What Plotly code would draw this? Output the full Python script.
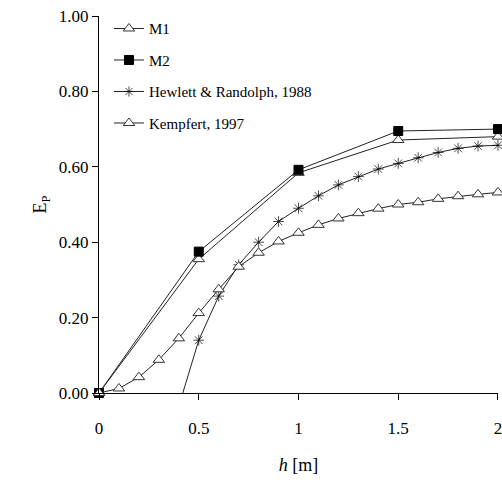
import plotly.graph_objects as go

# Data
h_m = [0, 0.5, 1.0, 1.5, 2.0]
m1 = [0.0, 0.355, 0.584, 0.671, 0.680]
m2 = [0.0, 0.375, 0.592, 0.695, 0.700]

h_hr = [0.42, 0.5, 0.6, 0.7, 0.8, 0.9, 1.0, 1.1, 1.2, 1.3, 1.4, 1.5, 1.6, 1.7, 1.8, 1.9, 2.0]
hewlett = [0.0, 0.14, 0.257, 0.34, 0.40, 0.455, 0.49, 0.523, 0.552, 0.574, 0.594,
           0.609, 0.624, 0.638, 0.649, 0.655, 0.657]

h_k = [0, 0.1, 0.2, 0.3, 0.4, 0.5, 0.6, 0.7, 0.8, 0.9, 1.0, 1.1, 1.2, 1.3, 1.4,
       1.5, 1.6, 1.7, 1.8, 1.9, 2.0]
kempfert = [0.0, 0.012, 0.042, 0.088, 0.145, 0.212, 0.275, 0.335, 0.372, 0.402, 0.425,
            0.446, 0.463, 0.477, 0.489, 0.50, 0.506, 0.515, 0.522, 0.527, 0.532]

y_ticks = [0, 0.2, 0.4, 0.6, 0.8, 1.0]
y_labels = ["0.00", "0.20", "0.40", "0.60", "0.80", "1.00"]
x_ticks = [0, 0.5, 1, 1.5, 2]
x_labels = ["0", "0.5", "1", "1.5", "2"]

FONT = "Liberation Serif"
LINE = "#222222"

fig = go.Figure()
fig.add_trace(go.Scatter(
    x=h_m, y=m1, name="M1", mode="lines+markers", legendgroup="a",
    line=dict(color=LINE, width=1),
    marker=dict(symbol="triangle-up", size=10, color="white",
                line=dict(color="#333333", width=1)),
    cliponaxis=False))
fig.add_trace(go.Scatter(
    x=h_m, y=m2, name="M2", mode="lines+markers", legendgroup="b",
    line=dict(color=LINE, width=1),
    marker=dict(symbol="square", size=9, color="black",
                line=dict(color="black", width=1)),
    cliponaxis=False))
fig.add_trace(go.Scatter(
    x=h_hr, y=hewlett, name="Hewlett & Randolph, 1988", mode="lines+markers",
    legendgroup="c",
    line=dict(color=LINE, width=1),
    marker=dict(symbol="asterisk-open", size=[0] + [9] * (len(h_hr) - 1),
                color="black", line=dict(color="#222222", width=1)),
    cliponaxis=False))
fig.add_trace(go.Scatter(
    x=h_k, y=kempfert, name="Kempfert, 1997", mode="lines+markers", legendgroup="d",
    line=dict(color=LINE, width=1),
    marker=dict(symbol="triangle-up", size=10, color="white",
                line=dict(color="#333333", width=1)),
    cliponaxis=False))

fig.update_layout(
    width=502, height=482,
    margin=dict(l=99, r=4, t=16, b=89),
    plot_bgcolor="white", paper_bgcolor="white",
    font=dict(family=FONT, size=17, color="black"),
    showlegend=True,
    legend=dict(x=0.025, y=1.01, xanchor="left", yanchor="top",
                bgcolor="rgba(0,0,0,0)", font=dict(family=FONT, size=15),
                traceorder="grouped", tracegroupgap=9, itemwidth=30),
    xaxis=dict(range=[-0.0001, 2.0001], tickvals=x_ticks, ticktext=x_labels,
               showgrid=False, zeroline=False, showline=True, linecolor="black",
               linewidth=1, ticks="outside", ticklen=6, tickcolor="black",
               ticklabelstandoff=14, ticklabeloverflow="allow", automargin=False,
               title=dict(text="<i>h</i> [m]", standoff=20,
                          font=dict(family=FONT, size=18))),
    yaxis=dict(range=[0, 1], tickvals=y_ticks, ticktext=y_labels,
               showgrid=False, zeroline=False, showline=True, linecolor="black",
               linewidth=1, ticks="outside", ticklen=6, tickcolor="black",
               automargin=False,
               title=dict(text="E<sub>P</sub>", standoff=7,
                          font=dict(family=FONT, size=18))),
)

fig.write_html("out.html")
